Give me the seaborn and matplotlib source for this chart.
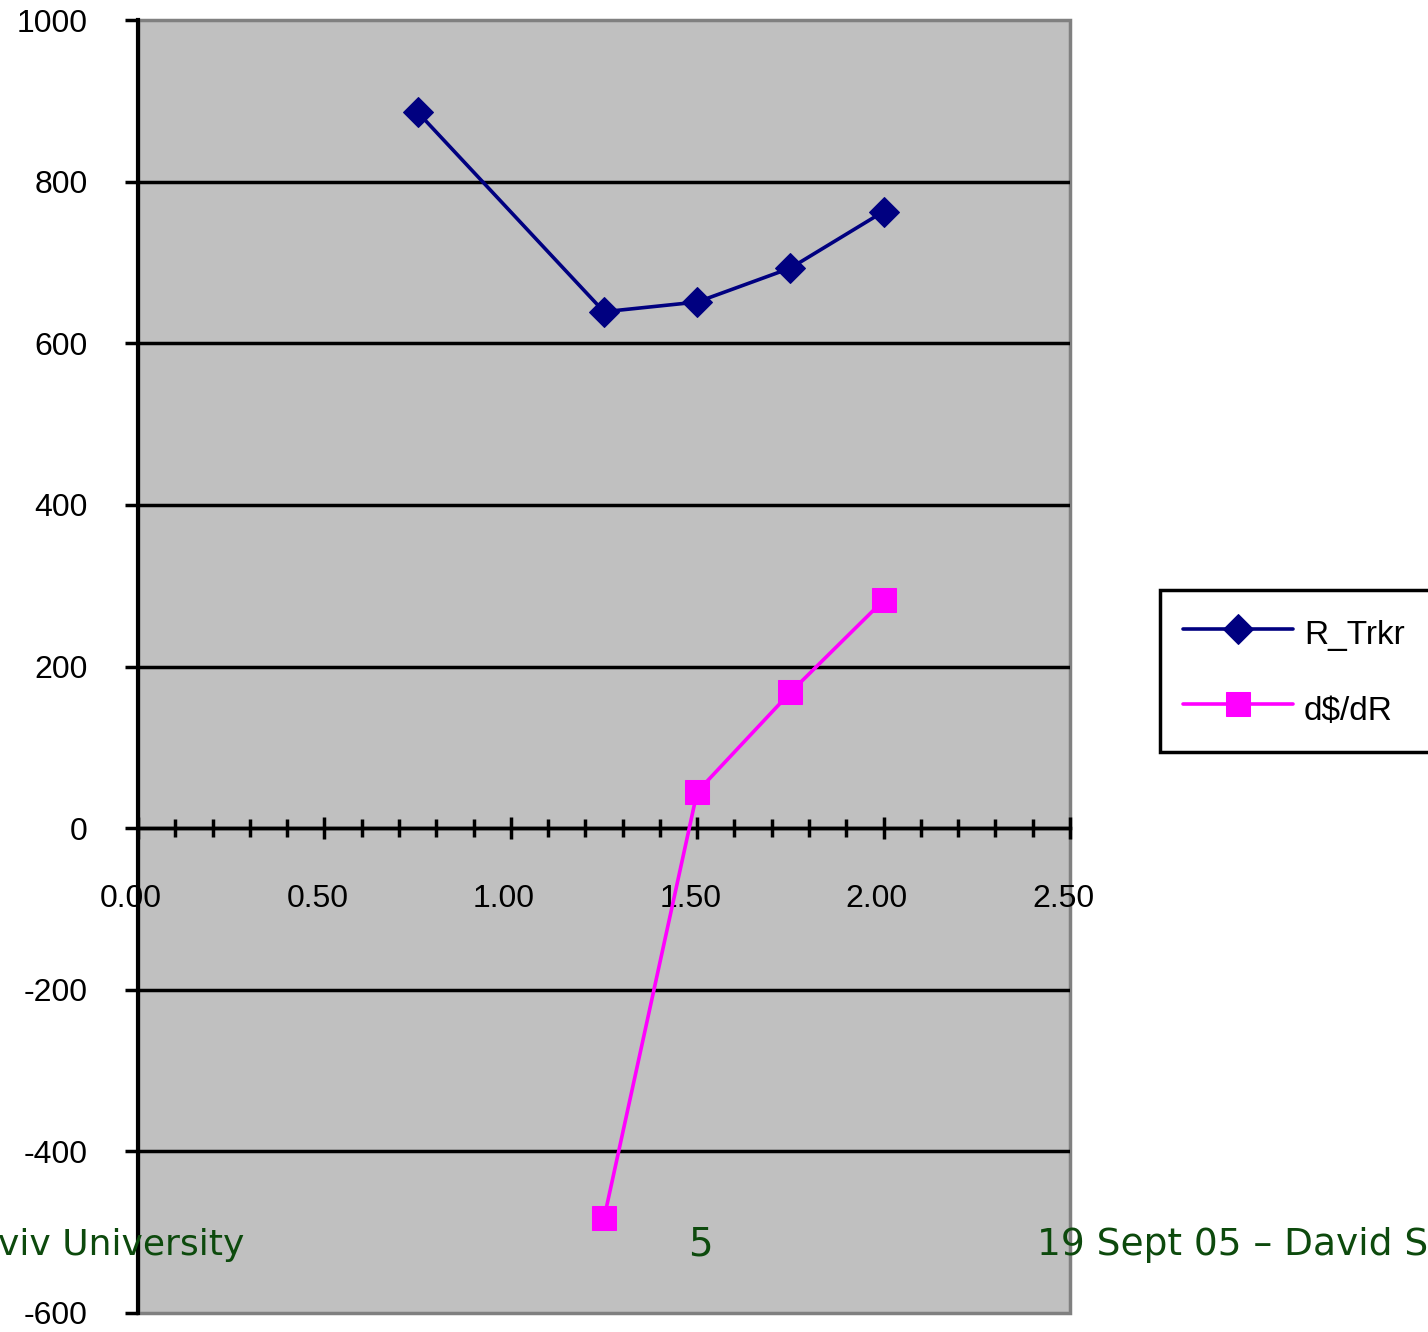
import matplotlib
matplotlib.use("Agg")
import matplotlib.pyplot as plt
import matplotlib.transforms as mtransforms
import seaborn as sns
import pandas as pd
import numpy as np

# ---- data ----
x_rtrkr = [0.75, 1.25, 1.50, 1.75, 2.00]
r_trkr = [886, 639, 651, 693, 763]
x_dsdr = [1.25, 1.50, 1.75, 2.00]
dsdr = [-483, 45, 168, 282]
x_ticks = [0.0, 0.5, 1.0, 1.5, 2.0, 2.5]
y_ticks = [-600, -400, -200, 0, 200, 400, 600, 800, 1000]
footer_left = "viv University"
footer_mid = "5"
footer_right = "19 Sept 05 \u2013 David S"

sns.set_theme(style="white")
plt.rcParams["font.family"] = ["Liberation Sans", "DejaVu Sans"]
plt.rcParams["axes.unicode_minus"] = False

W, H = 1428, 1332
fig = plt.figure(figsize=(W / 100, H / 100), dpi=100)
fig.patch.set_facecolor("white")
ax = fig.add_axes([138 / W, 1 - 1313 / H, (1070 - 138) / W, (1313 - 20) / H])
ax.set_facecolor("#c0c0c0")
ax.patch.set_edgecolor("#808080")
ax.patch.set_linewidth(2.5)

df1 = pd.DataFrame({"x": x_rtrkr, "y": r_trkr})
df2 = pd.DataFrame({"x": x_dsdr, "y": dsdr})

sns.lineplot(data=df1, x="x", y="y", ax=ax, color="#000080", linewidth=2.6,
             marker="D", markersize=15.5, markeredgecolor="#000080",
             label="R_Trkr", zorder=4)
sns.lineplot(data=df2, x="x", y="y", ax=ax, color="#ff00ff", linewidth=2.6,
             marker="s", markersize=17.5, markeredgecolor="#ff00ff",
             label="d$/dR", zorder=4)

ax.set_xlim(0, 2.5)
ax.set_ylim(-600, 1000)
ax.set_xlabel("")
ax.set_ylabel("")

# spines
for s in ["top", "right"]:
    ax.spines[s].set_visible(False)
ax.spines["left"].set_color("black")
ax.spines["left"].set_linewidth(3.0)
ax.spines["bottom"].set_position(("data", 0))
ax.spines["bottom"].set_color("black")
ax.spines["bottom"].set_linewidth(2.5)
ax.spines["left"].set_zorder(5)

# ticks
ax.set_yticks(y_ticks)
ax.set_yticklabels([str(v) for v in y_ticks])
ax.set_xticks(x_ticks)
ax.set_xticklabels([f"{v:.2f}" for v in x_ticks])
ax.set_xticks(np.arange(0, 2.51, 0.1), minor=True)
ax.tick_params(axis="y", direction="out", length=9.4, width=2.5, color="black",
               labelsize=23, pad=27, left=True)
ax.tick_params(axis="x", which="major", direction="inout", length=16.5, width=2.5,
               color="black", labelsize=23, pad=32, bottom=True)
ax.tick_params(axis="x", which="minor", direction="inout", length=13.5, width=2.5,
               color="black", bottom=True)
off = mtransforms.ScaledTranslation(-7 / 100, 0, fig.dpi_scale_trans)
for lab in ax.get_xticklabels():
    lab.set_transform(lab.get_transform() + off)
    lab.set_color("black")
for lab in ax.get_yticklabels():
    lab.set_color("black")

# grid
ax.set_axisbelow(True)
ax.yaxis.grid(True, color="black", linewidth=2.5)
ax.xaxis.grid(False)
glines = ax.get_ygridlines()
glines[0].set_visible(False)
glines[-1].set_visible(False)

# legend (frame runs past the right edge, as in the reference)
leg = ax.legend(loc="upper left",
                bbox_to_anchor=(1160 / W, 1 - 743 / H, 320 / W, 153 / H),
                bbox_transform=fig.transFigure, mode="expand", borderaxespad=0,
                fontsize=24, frameon=True, fancybox=False, shadow=False,
                handlelength=3.3, handletextpad=0.33, labelspacing=1.05,
                borderpad=0.69, handleheight=1.5)
leg.get_frame().set_edgecolor("black")
leg.get_frame().set_linewidth(2.5)
leg.get_frame().set_facecolor("white")
leg.get_frame().set_alpha(1)
for t in leg.get_texts():
    t.set_color("black")

# footer text (slide overlay)
green = "#0d4a0d"
fy = 1 - 1255 / H
fig.text(-2 / W, fy, footer_left, ha="left", va="baseline", color=green,
         fontsize=26, family=["DejaVu Sans"])
fig.text(700 / W, fy, footer_mid, ha="center", va="baseline", color=green,
         fontsize=28, family=["DejaVu Sans"])
fig.text(1037 / W, fy, footer_right, ha="left", va="baseline", color=green,
         fontsize=27, family=["DejaVu Sans"])

fig.savefig("out.png", dpi=100)
